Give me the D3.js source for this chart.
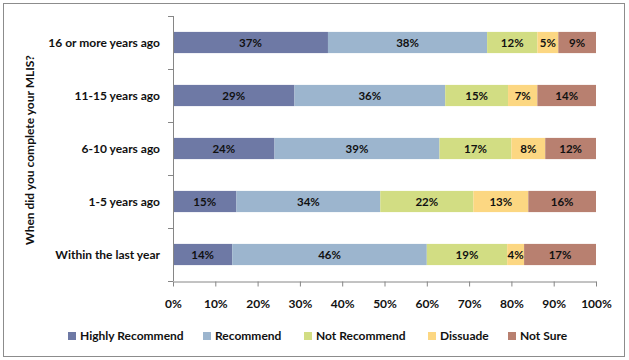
<!DOCTYPE html>
<html><head><meta charset="utf-8">
<script src="https://cdn.jsdelivr.net/npm/d3@7"></script>
<style>
body{margin:0;background:#fff;}
svg text{font-family:Lato,"Open Sans",sans-serif;font-weight:700;fill:#111;}
</style></head>
<body>
<svg id="chart" width="629" height="360"></svg>
<script>
const categories = ["16 or more years ago","11-15 years ago","6-10 years ago","1-5 years ago","Within the last year"];
const seriesNames = ["Highly Recommend","Recommend","Not Recommend","Dissuade","Not Sure"];
const highlyRecommend = [37,29,24,15,14];
const recommend = [38,36,39,34,46];
const notRecommend = [12,15,17,22,19];
const dissuade = [5,7,8,13,4];
const notSure = [9,14,12,16,17];
const xTicks = [0,10,20,30,40,50,60,70,80,90,100];
const colors = ["#6E79A5","#9CB5CE","#D2DD83","#FCD782","#B88070"];
const yTitle = "When did you complete your MLIS?";

const seriesVals = [highlyRecommend,recommend,notRecommend,dissuade,notSure];
const rows = categories.map((c,i)=>{
  const r={cat:c};
  seriesNames.forEach((s,j)=>r[s]=seriesVals[j][i]);
  return r;
});

const svg = d3.select("#chart");
svg.append("rect").attr("x",3.5).attr("y",3.5).attr("width",621).attr("height",353)
  .attr("fill","#fff").attr("stroke","#8c8c8c").attr("stroke-width",1);

const pL=173,pR=596,pT=16,pB=281;
const x = d3.scaleLinear().domain([0,100]).range([pL,pR]);
const y = d3.scaleBand().domain(categories).range([pT,pB]).paddingInner(0.6).paddingOuter(0.3);

const stack = d3.stack().keys(seriesNames).offset(d3.stackOffsetExpand);
const stacked = stack(rows);

const g = svg.append("g");
stacked.forEach((layer,j)=>{
  const lg = g.append("g");
  lg.selectAll("rect").data(layer).join("rect")
    .attr("x",d=>x(d[0]*100))
    .attr("width",d=>x(d[1]*100)-x(d[0]*100))
    .attr("y",d=>y(d.data.cat))
    .attr("height",y.bandwidth())
    .attr("fill",colors[j]);
  lg.selectAll("text").data(layer).join("text")
    .attr("x",d=>(x(d[0]*100)+x(d[1]*100))/2)
    .attr("y",d=>y(d.data.cat)+y.bandwidth()/2)
    .attr("dy","0.35em").attr("text-anchor","middle")
    .style("font-size","11.5px")
    .text(d=>d.data[seriesNames[j]]+"%");
});

// y axis
const yAxisBand = d3.scaleBand().domain(categories).range([pT,pB]);
const ya = svg.append("g");
ya.append("line").attr("x1",pL+0.5).attr("x2",pL+0.5).attr("y1",pT).attr("y2",pB).attr("stroke","#868686");
ya.selectAll("line.t").data(d3.range(categories.length+1)).join("line").attr("class","t")
  .attr("x1",pL-5).attr("x2",pL).attr("y1",i=>Math.round(pT+i*yAxisBand.step())+0.5).attr("y2",i=>Math.round(pT+i*yAxisBand.step())+0.5)
  .attr("stroke","#868686");
ya.selectAll("text").data(categories).join("text")
  .attr("x",pL-13).attr("y",d=>y(d)+y.bandwidth()/2).attr("dy","0.35em")
  .attr("text-anchor","end").style("font-size","12px").text(d=>d);

// x axis
const xa = svg.append("g").attr("transform",`translate(0,${pB+0.5})`)
  .call(d3.axisBottom(x).tickValues(xTicks).tickSize(5).tickSizeOuter(0).tickFormat(d=>d+"%"));
xa.select(".domain").attr("stroke","#868686");
xa.selectAll(".tick line").attr("stroke","#868686");
xa.selectAll(".tick text").attr("dy","0").attr("y",26).style("font-size","12px").style("font-family","Lato,sans-serif").attr("fill","#111");

// y title
svg.append("text").attr("transform","translate(34,150) rotate(-90)")
  .attr("text-anchor","middle").style("font-size","12px").text(yTitle);

// legend
const legX = [68,203,304,428,508];
const leg = svg.append("g");
seriesNames.forEach((s,j)=>{
  leg.append("rect").attr("x",legX[j]).attr("y",332).attr("width",8).attr("height",8).attr("fill",colors[j]);
  leg.append("text").attr("x",legX[j]+12).attr("y",336).attr("dy","0.35em").style("font-size","12px").text(s);
});
</script>
</body></html>
